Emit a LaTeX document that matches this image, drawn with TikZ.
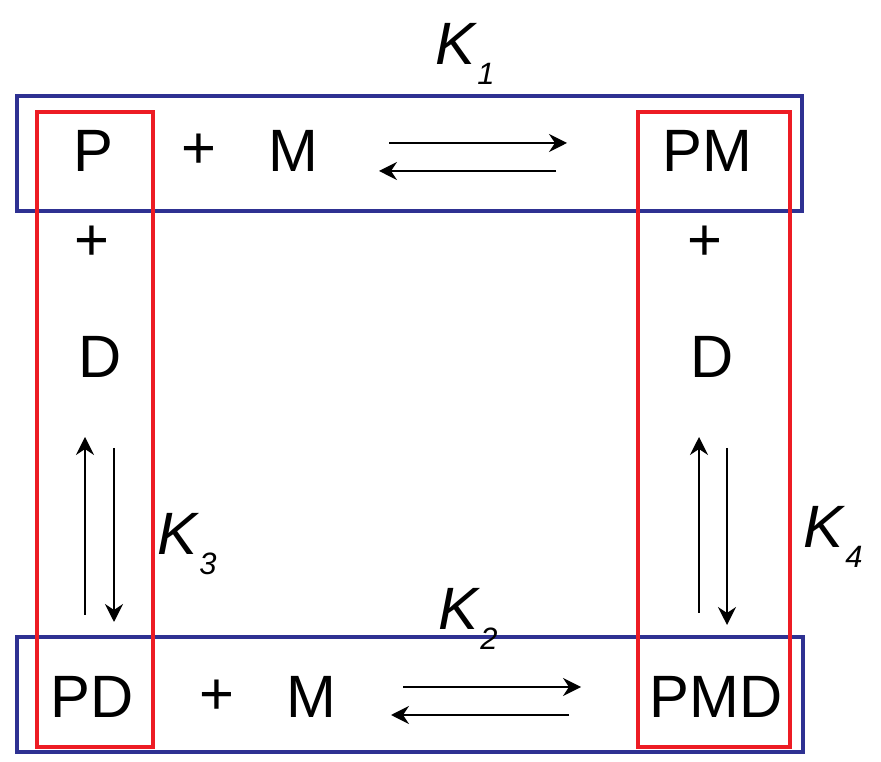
\documentclass[tikz,border=0pt]{standalone}
\usepackage{fontspec}
\setmainfont{Liberation Sans}
\usetikzlibrary{arrows.meta}
\definecolor{boxblue}{RGB}{46,49,146}
\definecolor{boxred}{RGB}{237,28,36}
\newcommand{\kconst}[1]{\textit{K}\raisebox{-20bp}{\fontsize{31}{31}\selectfont\itshape #1}}
\begin{document}
\begin{tikzpicture}[line join=miter,
  species/.style={inner sep=0pt,font=\fontsize{60}{72}\selectfont},
  kname/.style={inner sep=0pt,anchor=base west,font=\fontsize{60}{72}\selectfont},
  reac/.style={-{Stealth[length=18bp,width=18bp,inset=6bp]},line width=1.6bp},
  bluebox/.style={draw=boxblue,line width=4bp},
  redbox/.style={draw=boxred,line width=3.5bp}]
\useasboundingbox (0bp,0bp) rectangle (881bp,762bp);
%%
  \draw [bluebox] (17bp,666bp) rectangle (802bp,551bp);
  \draw [bluebox] (17bp,125bp) rectangle (803bp,10bp);
  \draw [redbox] (37bp,650bp) rectangle (153bp,15bp);
  \draw [redbox] (638bp,650bp) rectangle (790bp,15bp);
%%
  \node (P) at (93bp,611bp) [species] {P};
  \node (plusPM) at (199bp,611bp) [species] {+};
  \node (M) at (293bp,611bp) [species] {M};
  \node (PM) at (707bp,611bp) [species] {PM};
  \node (plusPD) at (92bp,519bp) [species] {+};
  \node (D) at (100bp,405bp) [species] {D};
  \node (plusPMD) at (705bp,519bp) [species] {+};
  \node (Dr) at (712bp,405bp) [species] {D};
  \node (PD) at (92bp,65bp) [species] {PD};
  \node (plusM) at (217bp,65bp) [species] {+};
  \node (Mb) at (311bp,65bp) [species] {M};
  \node (PMD) at (716bp,65bp) [species] {PMD};
%%
  \coordinate (K1a) at (389bp,619bp);
  \coordinate (K1b) at (567bp,619bp);
  \coordinate (K1c) at (556bp,591bp);
  \coordinate (K1d) at (379bp,591bp);
  \coordinate (K2a) at (403bp,75bp);
  \coordinate (K2b) at (581bp,75bp);
  \coordinate (K2c) at (569bp,47bp);
  \coordinate (K2d) at (391bp,47bp);
  \coordinate (K3a) at (85bp,147bp);
  \coordinate (K3b) at (85bp,325bp);
  \coordinate (K3c) at (114bp,314bp);
  \coordinate (K3d) at (114bp,140bp);
  \coordinate (K4a) at (699bp,149bp);
  \coordinate (K4b) at (699bp,325bp);
  \coordinate (K4c) at (727bp,314bp);
  \coordinate (K4d) at (727bp,137bp);
  \draw [reac] (K1a) -- (K1b);
  \draw [reac] (K1c) -- (K1d);
  \draw [reac] (K2a) -- (K2b);
  \draw [reac] (K2c) -- (K2d);
  \draw [reac] (K3a) -- (K3b);
  \draw [reac] (K3c) -- (K3d);
  \draw [reac] (K4a) -- (K4b);
  \draw [reac] (K4c) -- (K4d);
%%
  \node (K1) at (435bp,697bp) [kname] {\kconst{1}};
  \node (K2) at (438bp,132bp) [kname] {\kconst{2}};
  \node (K3) at (157bp,207bp) [kname] {\kconst{3}};
  \node (K4) at (803bp,214bp) [kname] {\kconst{4}};
%
\end{tikzpicture}
\end{document}
